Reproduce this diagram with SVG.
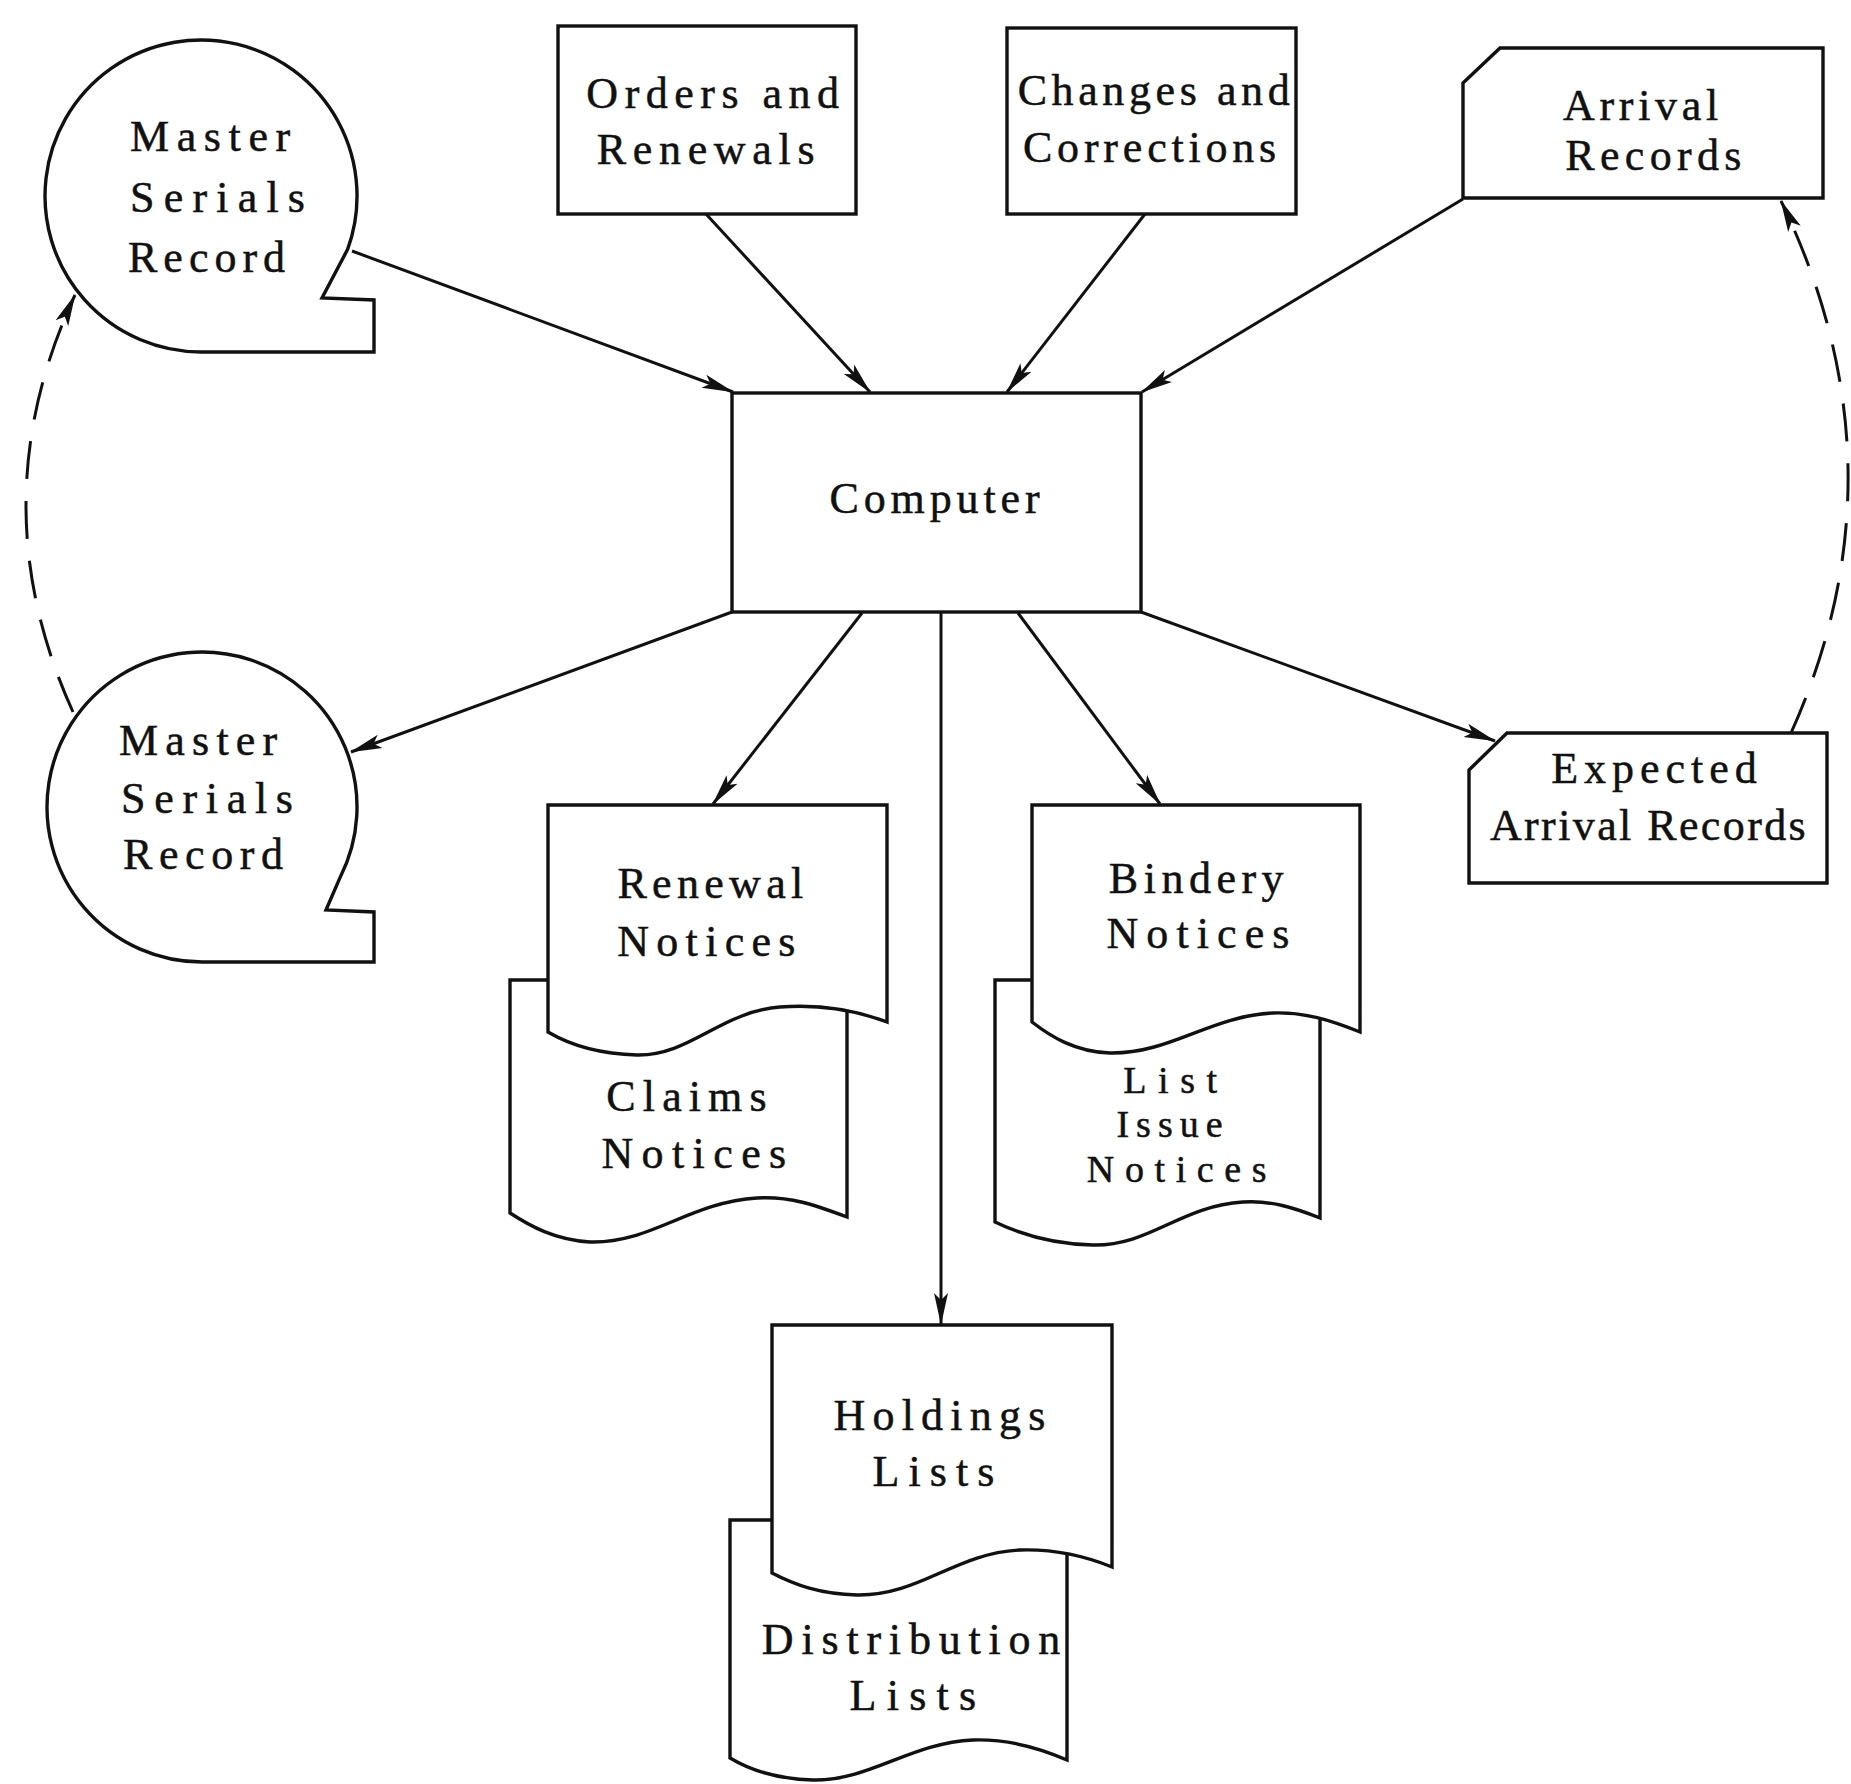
<svg xmlns="http://www.w3.org/2000/svg" width="1851" height="1784" viewBox="0 0 1851 1784">
  <style>
    .shape { fill: #fff; stroke: #111; stroke-width: 3.4; stroke-linejoin: miter; }
    .lbl { font-family: "Liberation Serif", "Times New Roman", serif; font-size: 44px; fill: #111; stroke: #111; stroke-width: 0.5; }
    .small { font-size: 38px; }
    .mid { text-anchor: middle; }
    .flow { fill: none; stroke: #111; stroke-width: 3; }
    .dash { fill: none; stroke: #111; stroke-width: 3; stroke-dasharray: 38 22; }
  </style>
  <defs>
    <marker id="arrow" markerUnits="userSpaceOnUse" markerWidth="32" markerHeight="16" refX="31" refY="8" orient="auto">
      <path d="M0,1 L32,8 L0,15 L7,8 Z" fill="#111"/>
    </marker>
  </defs>
  <rect width="1851" height="1784" fill="#fff"/>

  <!-- connectors -->
  <g id="connectors">
    <line class="flow" x1="352" y1="251" x2="733" y2="392" marker-end="url(#arrow)"/>
    <line class="flow" x1="706" y1="214" x2="870" y2="392" marker-end="url(#arrow)"/>
    <line class="flow" x1="1145" y1="214" x2="1007" y2="392" marker-end="url(#arrow)"/>
    <line class="flow" x1="1463" y1="199" x2="1142" y2="392" marker-end="url(#arrow)"/>
    <line class="flow" x1="732" y1="612" x2="351" y2="752" marker-end="url(#arrow)"/>
    <line class="flow" x1="862" y1="613" x2="713" y2="804" marker-end="url(#arrow)"/>
    <line class="flow" x1="941" y1="613" x2="941" y2="1324" marker-end="url(#arrow)"/>
    <line class="flow" x1="1018" y1="613" x2="1160" y2="804" marker-end="url(#arrow)"/>
    <line class="flow" x1="1141" y1="612" x2="1495" y2="741" marker-end="url(#arrow)"/>
    <path class="dash" d="M73,712 Q-22,503 75,295" marker-end="url(#arrow)"/>
    <path class="dash" d="M1791,733 Q1910,468 1781,201" marker-end="url(#arrow)"/>
  </g>

  <!-- master serials record (input) -->
  <g id="master-serials-in">
    <path class="shape" d="M201,352 A156,156 0 1 1 347.6,249.4 L322,298 L374,300 L374,352 Z"/>
    <text class="lbl" x="130" y="151" letter-spacing="7.6">Master</text>
    <text class="lbl" x="130" y="212" letter-spacing="9.2">Serials</text>
    <text class="lbl" x="128" y="272" letter-spacing="6">Record</text>
  </g>

  <!-- orders and renewals -->
  <g id="orders-renewals">
    <rect class="shape" x="558" y="26" width="298" height="188"/>
    <text class="lbl mid" x="716" y="108" letter-spacing="6.5">Orders and</text>
    <text class="lbl mid" x="709" y="164" letter-spacing="6.7">Renewals</text>
  </g>

  <!-- changes and corrections -->
  <g id="changes-corrections">
    <rect class="shape" x="1007" y="28" width="289" height="186"/>
    <text class="lbl mid" x="1156" y="105" letter-spacing="4.6">Changes and</text>
    <text class="lbl mid" x="1152" y="162" letter-spacing="4.8">Corrections</text>
  </g>

  <!-- arrival records -->
  <g id="arrival-records">
    <path class="shape" d="M1500,48 L1823,48 L1823,198 L1463,198 L1463,83 Z"/>
    <text class="lbl mid" x="1643" y="120" letter-spacing="4.7">Arrival</text>
    <text class="lbl mid" x="1656" y="170" letter-spacing="5.3">Records</text>
  </g>

  <!-- computer -->
  <g id="computer">
    <rect class="shape" x="732" y="393" width="409" height="219"/>
    <text class="lbl mid" x="937" y="513" letter-spacing="4.9">Computer</text>
  </g>

  <!-- master serials record (output) -->
  <g id="master-serials-out">
    <path class="shape" d="M202,962 A155,155 0 1 1 340.1,877.4 L326,910 L374,912 L374,962 Z"/>
    <text class="lbl" x="119" y="755" letter-spacing="7.2">Master</text>
    <text class="lbl" x="121" y="813" letter-spacing="8.7">Serials</text>
    <text class="lbl" x="123" y="869" letter-spacing="6.6">Record</text>
  </g>

  <!-- expected arrival records -->
  <g id="expected-arrival">
    <path class="shape" d="M1507,733 L1827,733 L1827,883 L1469,883 L1469,770 Z"/>
    <text class="lbl mid" x="1657" y="783" letter-spacing="6">Expected</text>
    <text class="lbl mid" x="1649" y="840" letter-spacing="2.4">Arrival Records</text>
  </g>

  <!-- claims notices (behind) -->
  <g id="claims-notices">
    <path class="shape" d="M510,980 L847,980 L847,1217 C815,1205 790,1196 757,1198 C690,1202 650,1244 590,1242 C555,1240 530,1226 510,1213 Z"/>
    <text class="lbl mid" x="690" y="1111" letter-spacing="7.1">Claims</text>
    <text class="lbl mid" x="698" y="1168" letter-spacing="8.4">Notices</text>
  </g>

  <!-- renewal notices (front) -->
  <g id="renewal-notices">
    <path class="shape" d="M548,805 L887,805 L887,1022 C855,1010 820,1004 780,1007 C720,1012 690,1056 637,1055 C600,1054 570,1045 548,1032 Z"/>
    <text class="lbl mid" x="713" y="898" letter-spacing="5.3">Renewal</text>
    <text class="lbl mid" x="710" y="956" letter-spacing="7.3">Notices</text>
  </g>

  <!-- list issue notices (behind) -->
  <g id="list-issue-notices">
    <path class="shape" d="M995,980 L1320,980 L1320,1218 C1295,1208 1270,1200 1243,1202 C1180,1206 1150,1246 1093,1245 C1050,1244 1020,1234 995,1222 Z"/>
    <text class="lbl small mid" x="1176" y="1093" letter-spacing="11.6">List</text>
    <text class="lbl small mid" x="1173" y="1137" letter-spacing="7">Issue</text>
    <text class="lbl small mid" x="1182" y="1182" letter-spacing="10.6">Notices</text>
  </g>

  <!-- bindery notices (front) -->
  <g id="bindery-notices">
    <path class="shape" d="M1032,805 L1360,805 L1360,1032 C1330,1020 1305,1012 1273,1013 C1210,1016 1170,1054 1110,1053 C1075,1052 1050,1036 1032,1022 Z"/>
    <text class="lbl mid" x="1199" y="893" letter-spacing="5.5">Bindery</text>
    <text class="lbl mid" x="1202" y="948" letter-spacing="8.1">Notices</text>
  </g>

  <!-- distribution lists (behind) -->
  <g id="distribution-lists">
    <path class="shape" d="M730,1520 L1067,1520 L1067,1760 C1035,1746 1005,1739 973,1740 C910,1743 870,1781 813,1780 C775,1779 750,1770 730,1758 Z"/>
    <text class="lbl mid" x="915" y="1654" letter-spacing="7.8">Distribution</text>
    <text class="lbl mid" x="918" y="1710" letter-spacing="10.3">Lists</text>
  </g>

  <!-- holdings lists (front) -->
  <g id="holdings-lists">
    <path class="shape" d="M772,1325 L1112,1325 L1112,1567 C1080,1554 1050,1549 1020,1550 C955,1553 920,1596 857,1595 C820,1594 795,1585 772,1573 Z"/>
    <text class="lbl mid" x="943" y="1430" letter-spacing="7.2">Holdings</text>
    <text class="lbl mid" x="938" y="1486" letter-spacing="9.1">Lists</text>
  </g>
</svg>
